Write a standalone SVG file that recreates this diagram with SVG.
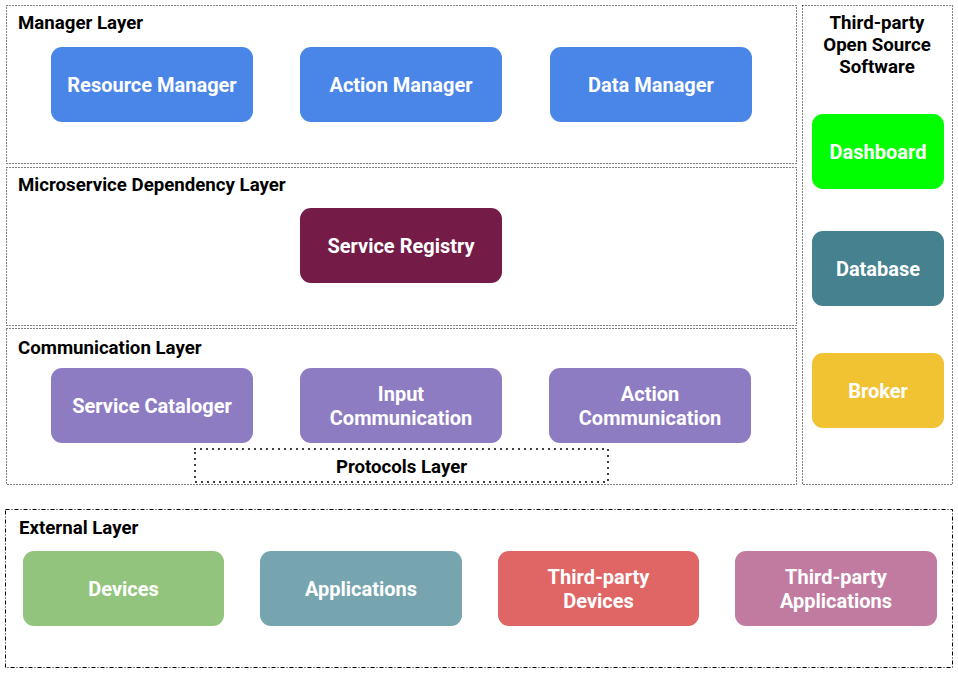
<svg xmlns="http://www.w3.org/2000/svg" width="958" height="677" viewBox="0 0 958 677">
<style>
.layer{fill:none;stroke:#000;stroke-width:1;stroke-dasharray:1 2}
.ext{fill:none;stroke:#000;stroke-width:1;stroke-dasharray:4 2 1 2}
.proto{fill:none;stroke:#000;stroke-width:2;stroke-dasharray:0 6;stroke-linecap:round}
.title{font-family:Roboto,"Liberation Sans",sans-serif;font-weight:bold;font-size:18.67px;fill:#000}
.lbl{font-family:Roboto,"Liberation Sans",sans-serif;font-weight:bold;font-size:20px;fill:#fff;text-anchor:middle}
.n{stroke:none}
</style>
<rect width="958" height="677" fill="#fff"/>
<g id="layers">
<rect class="layer" x="6.5" y="5.5" width="790" height="158"/>
<rect class="layer" x="6.5" y="167.5" width="790" height="158"/>
<rect class="layer" x="6.5" y="328.5" width="790" height="156"/>
<rect class="layer" x="802.5" y="5.5" width="150" height="479"/>
<rect class="ext" x="5.5" y="509.5" width="947" height="158"/>
<rect class="proto" x="195" y="449" width="413" height="33"/>
<text class="title" x="18" y="29">Manager Layer</text>
<text class="title" x="18" y="191">Microservice Dependency Layer</text>
<text class="title" x="18" y="354">Communication Layer</text>
<text class="title" x="19" y="534">External Layer</text>
<text class="title" x="401.5" y="473" text-anchor="middle">Protocols Layer</text>
<text class="title" x="877" y="29" text-anchor="middle">Third-party</text>
<text class="title" x="877" y="51" text-anchor="middle">Open Source</text>
<text class="title" x="877" y="73" text-anchor="middle">Software</text>
</g>
<g id="resource-manager"><rect class="n" x="51" y="47" width="202" height="75" rx="11" fill="#4A86E8"/><text class="lbl" x="152" y="91.5">Resource Manager</text></g>
<g id="action-manager"><rect class="n" x="300" y="47" width="202" height="75" rx="11" fill="#4A86E8"/><text class="lbl" x="401" y="91.5">Action Manager</text></g>
<g id="data-manager"><rect class="n" x="550" y="47" width="202" height="75" rx="11" fill="#4A86E8"/><text class="lbl" x="651" y="91.5">Data Manager</text></g>
<g id="service-registry"><rect class="n" x="300" y="208" width="202" height="75" rx="11" fill="#741B47"/><text class="lbl" x="401" y="252.5">Service Registry</text></g>
<g id="service-cataloger"><rect class="n" x="51" y="368" width="202" height="75" rx="11" fill="#8E7CC3"/><text class="lbl" x="152" y="412.5">Service Cataloger</text></g>
<g id="input-communication"><rect class="n" x="300" y="368" width="202" height="75" rx="11" fill="#8E7CC3"/><text class="lbl" x="401" y="400.5">Input</text><text class="lbl" x="401" y="424.5">Communication</text></g>
<g id="action-communication"><rect class="n" x="549" y="368" width="202" height="75" rx="11" fill="#8E7CC3"/><text class="lbl" x="650" y="400.5">Action</text><text class="lbl" x="650" y="424.5">Communication</text></g>
<g id="dashboard"><rect class="n" x="812" y="114" width="132" height="75" rx="11" fill="#00FF00"/><text class="lbl" x="878" y="159">Dashboard</text></g>
<g id="database"><rect class="n" x="812" y="231" width="132" height="75" rx="11" fill="#45818E"/><text class="lbl" x="878" y="276">Database</text></g>
<g id="broker"><rect class="n" x="812" y="353" width="132" height="75" rx="11" fill="#F1C232"/><text class="lbl" x="878" y="398">Broker</text></g>
<g id="devices"><rect class="n" x="23" y="551" width="201" height="75" rx="11" fill="#93C47D"/><text class="lbl" x="123.5" y="595.5">Devices</text></g>
<g id="applications"><rect class="n" x="260" y="551" width="202" height="75" rx="11" fill="#76A5AF"/><text class="lbl" x="361" y="595.5">Applications</text></g>
<g id="third-party-devices"><rect class="n" x="498" y="551" width="201" height="75" rx="11" fill="#E06666"/><text class="lbl" x="598.5" y="583.5">Third-party</text><text class="lbl" x="598.5" y="607.5">Devices</text></g>
<g id="third-party-applications"><rect class="n" x="735" y="551" width="202" height="75" rx="11" fill="#C27BA0"/><text class="lbl" x="836" y="583.5">Third-party</text><text class="lbl" x="836" y="607.5">Applications</text></g>
<g id="connectors"></g>
</svg>
